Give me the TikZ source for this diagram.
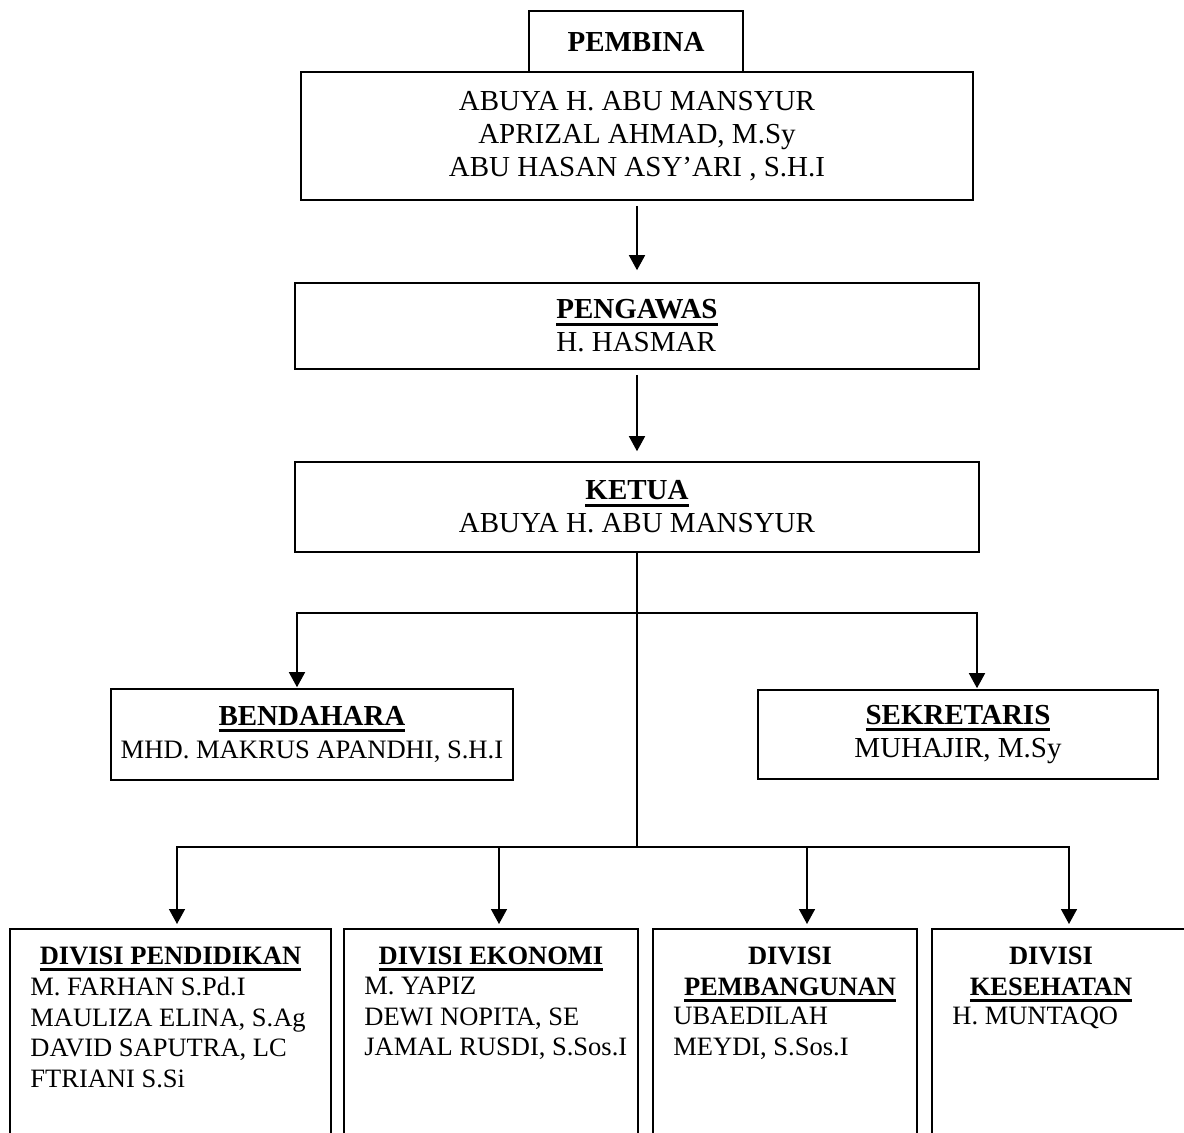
\documentclass[tikz,border=0pt]{standalone}
\usepackage{fontspec}
\setmainfont{Liberation Serif}
\usetikzlibrary{arrows.meta,positioning}
\newcommand{\hdr}[1]{\textbf{\setbox0\hbox{#1}\rlap{\rule[-0.24em]{\wd0}{0.11em}}\box0}}
\tikzset{orgbox/.style={draw,line width=1.6pt,inner sep=0pt,align=center},
    upper/.style={font=\fontsize{29}{33}\selectfont},
    divbox/.style={draw,line width=1.6pt,anchor=north,minimum height=260pt,inner sep=0pt},
    divhead/.style={anchor=north,inner sep=0pt,align=center,
        font=\fontsize{26.5}{30.5}\selectfont\bfseries},
    divnames/.style={anchor=north west,inner sep=0pt,align=left,
        font=\fontsize{26.5}{30.5}\selectfont},
    link/.style={line width=1.5pt},
    arrow/.style={link,-{Triangle[width=16pt,length=15pt]}}}

\begin{document}
\begin{tikzpicture}[x=1pt,y=-1pt]
    \useasboundingbox (0,0) rectangle (1184,1133);
    \clip (0,0) rectangle (1184,1133);
    % top of the chart
    \node[orgbox,minimum width=214pt,minimum height=61pt,
        font=\fontsize{29}{33}\selectfont\bfseries] (pembina) at (636,41.5) {PEMBINA};
    \node[orgbox,upper,minimum width=672pt,minimum height=128pt] (pembinanames) at (637,136)
        {ABUYA H. ABU MANSYUR\\APRIZAL AHMAD, M.Sy\\ABU HASAN ASY’ARI , S.H.I};
    \node[orgbox,upper,minimum width=684pt,minimum height=86pt,align=left] (pengawas) at (637,326)
        {\hdr{PENGAWAS}\\H. HASMAR};
    \node[orgbox,upper,minimum width=684pt,minimum height=90pt] (ketua) at (637,507)
        {\hdr{KETUA}\\ABUYA H. ABU MANSYUR};
    \node[orgbox,upper,minimum width=402pt,minimum height=91pt] (bendahara) at (312,734.5)
        {\hdr{BENDAHARA}\\{\fontsize{26.6}{33}\selectfont MHD. MAKRUS APANDHI, S.H.I}};
    \node[orgbox,upper,minimum width=400pt,minimum height=89pt] (sekretaris) at (958,734.5)
        {\hdr{SEKRETARIS}\\MUHAJIR, M.Sy};
    % divisions
    \node[divbox,minimum width=321pt] (pendidikan) at (170.5,928) {};
    \node[divbox,minimum width=294pt] (ekonomi) at (491,928) {};
    \node[divbox,minimum width=264pt] (pembangunan) at (785,928) {};
    \node[divbox,minimum width=300pt] (kesehatan) at (1082,928) {};
    \node[divhead] (pendidikanhead) at ([yshift=-19pt]pendidikan.north) {\hdr{DIVISI PENDIDIKAN}};
    \node[divhead] (ekonomihead) at ([yshift=-19pt]ekonomi.north) {\hdr{DIVISI EKONOMI}};
    \node[divhead] (pembangunanhead) at ([xshift=5pt,yshift=-19pt]pembangunan.north)
        {DIVISI\\\hdr{PEMBANGUNAN}};
    \node[divhead] (kesehatanhead) at ([xshift=-31pt,yshift=-19pt]kesehatan.north)
        {DIVISI\\\hdr{KESEHATAN}};
    \node[divnames] (pendidikannames) at ([xshift=21pt,yshift=-49pt]pendidikan.north west)
        {M. FARHAN S.Pd.I\\MAULIZA ELINA, S.Ag\\DAVID SAPUTRA, LC\\FTRIANI S.Si};
    \node[divnames] (ekonominames) at ([xshift=21pt,yshift=-49pt]ekonomi.north west)
        {M. YAPIZ\\DEWI NOPITA, SE\\JAMAL RUSDI, S.Sos.I};
    \node[divnames] (pembangunannames) at ([xshift=21pt,yshift=-79pt]pembangunan.north west)
        {UBAEDILAH\\MEYDI, S.Sos.I};
    \node[divnames] (kesehatannames) at ([xshift=21pt,yshift=-79pt]kesehatan.north west)
        {H. MUNTAQO};
    % connectors
    \coordinate (split) at (637,613);
    \coordinate (hub) at (637,847);
    \draw[arrow,shorten <=5pt,shorten >=12pt] (pembinanames) -- (pengawas);
    \draw[arrow,shorten <=5pt,shorten >=10pt] (pengawas) -- (ketua);
    \draw[link,line width=2.2pt] (ketua.south) -- (split);
    \draw[link] (split) -- (hub);
    \draw[arrow,shorten >=1pt] (split) -| ([xshift=-15pt]bendahara.north);
    \draw[arrow,shorten >=1pt] (split) -| ([xshift=19pt]sekretaris.north);
    \draw[arrow,shorten >=4pt] (hub) -| ([xshift=6.5pt]pendidikan.north);
    \draw[arrow,shorten >=4pt] (hub) -| ([xshift=8pt]ekonomi.north);
    \draw[arrow,shorten >=4pt] (hub) -| ([xshift=22pt]pembangunan.north);
    \draw[arrow,shorten >=4pt] (hub) -| ([xshift=-13pt]kesehatan.north);
\end{tikzpicture}
\end{document}
